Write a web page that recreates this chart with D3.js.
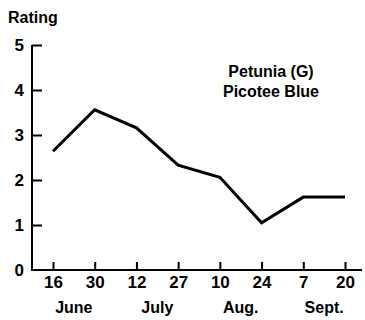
<!DOCTYPE html>
<html><head><meta charset="utf-8">
<script src="https://cdn.jsdelivr.net/npm/d3@7"></script>
<style>
html,body{margin:0;padding:0;background:#fff;}
text{font-family:"Liberation Sans",Arial,sans-serif;font-weight:bold;fill:#000;}
</style></head>
<body>
<svg id="chart" width="365" height="320"></svg>
<script>
const dates = ["16","30","12","27","10","24","7","20"];
const dateKeys = ["Jun16","Jun30","Jul12","Jul27","Aug10","Aug24","Sep7","Sep20"];
const ratings = [2.64, 3.56, 3.16, 2.33, 2.06, 1.05, 1.62, 1.62];
const months = ["June","July","Aug.","Sept."];
const yTicks = [0,1,2,3,4,5];
const titleLines = ["Petunia (G)","Picotee Blue"];
const yLabel = "Rating";

const svg = d3.select("#chart");
const x = d3.scalePoint().domain(dateKeys).range([53, 345]);
const y = d3.scaleLinear().domain([0,5]).range([270, 45]);
const axisLeftX = 32, axisRightX = 362;

// axis lines
svg.append("line").attr("x1", axisLeftX).attr("x2", axisLeftX)
  .attr("y1", y(5)).attr("y2", y(0)).attr("stroke","#000").attr("stroke-width",2);
svg.append("line").attr("x1", axisLeftX - 1).attr("x2", axisRightX)
  .attr("y1", y(0)).attr("y2", y(0)).attr("stroke","#000").attr("stroke-width",2);

// y axis
const ya = svg.append("g").attr("transform",`translate(${axisLeftX},0)`)
  .call(d3.axisLeft(y).tickValues(yTicks).tickSize(-10).tickPadding(8).tickFormat(d3.format("d")));
ya.select(".domain").remove();
ya.selectAll(".tick line").attr("stroke","#000").attr("stroke-width",2)
  .filter(d => d === 0).remove();
ya.selectAll(".tick text").attr("font-size",17).attr("font-family","Liberation Sans, Arial, sans-serif").attr("font-weight","bold").attr("fill","#000");

// x axis
const xa = svg.append("g").attr("transform",`translate(0,${y(0)})`)
  .call(d3.axisBottom(x).tickSize(-8).tickPadding(6).tickFormat((d,i) => dates[i]));
xa.select(".domain").remove();
xa.selectAll(".tick line").attr("stroke","#000").attr("stroke-width",2);
xa.selectAll(".tick text").attr("font-size",17).attr("font-family","Liberation Sans, Arial, sans-serif").attr("font-weight","bold").attr("fill","#000");

// month labels centred between tick pairs
svg.append("g").selectAll("text").data(months).join("text")
  .attr("x", (d,i) => (x(dateKeys[2*i]) + x(dateKeys[2*i+1]))/2)
  .attr("y", 313).attr("text-anchor","middle").attr("font-size",16)
  .text(d => d);

// y label
svg.append("text").attr("x", 8).attr("y", 23).attr("font-size",16).text(yLabel);

// title
svg.append("g").selectAll("text").data(titleLines).join("text")
  .attr("x", 271).attr("y", (d,i) => 77 + i*20).attr("text-anchor","middle")
  .attr("font-size",16).text(d => d);

// line
const line = d3.line().x((d,i) => x(dateKeys[i])).y(d => y(d));
svg.append("path").datum(ratings).attr("d", line)
  .attr("fill","none").attr("stroke","#000").attr("stroke-width",3).attr("stroke-linejoin","miter");
</script>
</body></html>
